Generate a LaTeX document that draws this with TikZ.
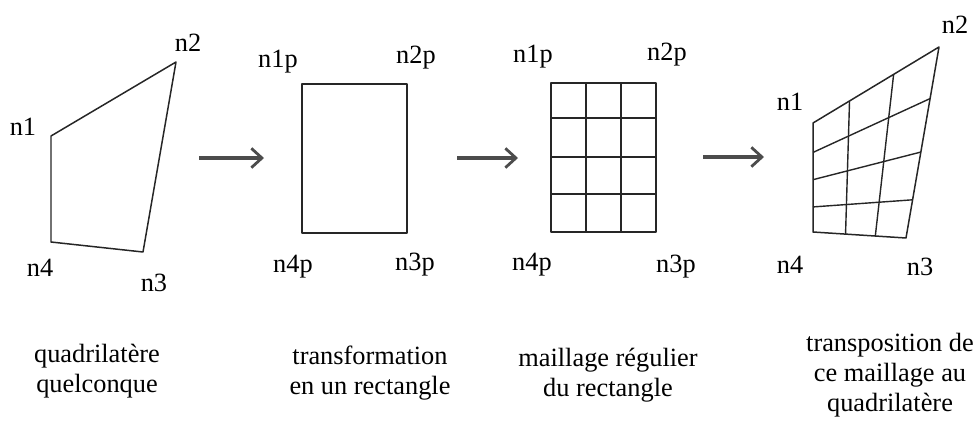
\documentclass[tikz,border=0pt]{standalone}
\usepackage{fontspec}
\setmainfont{Liberation Serif}
\usetikzlibrary{arrows.meta,calc}

\begin{document}
\begin{tikzpicture}[x=0.02cm, y=-0.02cm,
    edge/.style={black!85, line width=0.85pt, line join=round},
    mesh/.style={black!85, line width=0.8pt},
    flow/.style={-{Straight Barb[length=6pt, width=11pt, line width=1.6pt]}, black!70, line width=2pt},
    lbl/.style={font=\fontsize{15}{17}\selectfont, inner sep=1pt},
    caption/.style={lbl, align=center}]
  \useasboundingbox (0,0) rectangle (975,420);

  % Quadrilatere quelconque
  \coordinate (p1) at (51,136);
  \coordinate (p2) at (176,62);
  \coordinate (p3) at (143,252);
  \coordinate (p4) at (51,242);
  \draw[edge] (p1) -- (p2) -- (p3) -- (p4) -- cycle;
  \node[lbl] (ln1) at (23,127) {n1};
  \node[lbl] (ln2) at (188,43) {n2};
  \node[lbl] (ln3) at (154,283) {n3};
  \node[lbl] (ln4) at (40,268) {n4};

  % Rectangle
  \coordinate (r1) at (302,84);
  \coordinate (r3) at (407,233);
  \draw[edge] (r1) rectangle (r3);
  \node[lbl] (rn1) at (278,62) {n1p};
  \node[lbl] (rn2) at (416,58) {n2p};
  \node[lbl] (rn3) at (415,265) {n3p};
  \node[lbl] (rn4) at (293,267) {n4p};

  % Maillage regulier
  \coordinate (g1) at (551,83);
  \coordinate (g3) at (656,232);
  \draw[edge] (g1) rectangle (g3);
  \foreach \x in {586,621}
    \draw[mesh] (\x,83) -- (\x,232);
  \foreach \y in {118,157,194}
    \draw[mesh] (551,\y) -- (656,\y);
  \node[lbl] (gn1) at (533,57) {n1p};
  \node[lbl] (gn2) at (667,55) {n2p};
  \node[lbl] (gn3) at (676,267) {n3p};
  \node[lbl] (gn4) at (532,265) {n4p};

  % Transposition au quadrilatere
  \coordinate (q1) at (813,123);
  \coordinate (q2) at (939,47);
  \coordinate (q3) at (906,238);
  \coordinate (q4) at (813,232);
  \draw[edge] (q1) -- (q2) -- (q3) -- (q4) -- cycle;
  \foreach \a/\b in {0.29/0.35, 0.64/0.67}
    \draw[mesh] ($(q1)!\a!(q2)$) -- ($(q4)!\b!(q3)$);
  \foreach \a/\b in {0.27/0.27, 0.52/0.55, 0.77/0.80}
    \draw[mesh] ($(q1)!\a!(q4)$) -- ($(q2)!\b!(q3)$);
  \node[lbl] (qn1) at (790,102) {n1};
  \node[lbl] (qn2) at (955,25) {n2};
  \node[lbl] (qn3) at (920,267) {n3};
  \node[lbl] (qn4) at (790,265) {n4};

  % Fleches
  \coordinate (a1s) at (199,158);
  \coordinate (a1e) at (264,158);
  \coordinate (a2s) at (457,158);
  \coordinate (a2e) at (518,158);
  \coordinate (a3s) at (703,157);
  \coordinate (a3e) at (764,157);
  \draw[flow] (a1s) -- (a1e);
  \draw[flow] (a2s) -- (a2e);
  \draw[flow] (a3s) -- (a3e);

  % Legendes
  \node[caption] (c1) at (97,371) {quadrilatère\\quelconque};
  \node[caption] (c2) at (370,373) {transformation\\en un rectangle};
  \node[caption] (c3) at (608,375) {maillage régulier\\du rectangle};
  \node[caption] (c4) at (890,375) {transposition de\\ce maillage au\\quadrilatère};
\end{tikzpicture}
\end{document}
